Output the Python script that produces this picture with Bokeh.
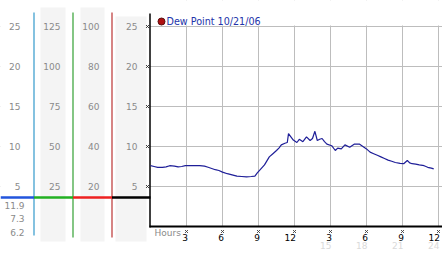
from bokeh.plotting import figure
from bokeh.models import Range1d, FixedTicker, BoxAnnotation
from bokeh.core.properties import value
from bokeh.embed import file_html
from bokeh.resources import INLINE

# ---------------- data ----------------
series_label = "Dew Point 10/21/06"
hours = [0.0, 0.3, 0.6, 1.0, 1.3, 1.6, 2.0, 2.3, 2.6, 2.9,
         3.3, 3.7, 4.1, 4.5, 4.8, 5.1, 5.4, 5.7, 6.0, 6.4,
         6.8, 7.2, 7.6, 8.0, 8.4, 8.7, 8.9, 9.2, 9.5, 9.7,
         9.9, 10.2, 10.5, 10.7, 10.9, 11.2, 11.4, 11.5, 11.7, 11.9,
         12.2, 12.4, 12.7, 13.0, 13.3, 13.5, 13.7, 13.9, 14.1, 14.3,
         14.5, 14.7, 15.1, 15.4, 15.6, 15.9, 16.2, 16.6, 17.0, 17.4,
         17.7, 18.0, 18.3, 18.6, 18.9, 19.2, 19.5, 19.8, 20.1, 20.4,
         20.8, 21.1, 21.4, 21.6, 21.8, 22.1, 22.4, 22.8, 23.1, 23.4,
         23.6]
dew = [7.6, 7.5, 7.4, 7.4, 7.45, 7.6, 7.55, 7.45, 7.5, 7.6,
       7.6, 7.6, 7.6, 7.55, 7.4, 7.25, 7.1, 7.0, 6.8, 6.6,
       6.45, 6.3, 6.25, 6.2, 6.25, 6.3, 6.7, 7.2, 7.7, 8.2,
       8.7, 9.1, 9.5, 9.8, 10.2, 10.4, 10.5, 11.6, 11.2, 10.8,
       10.5, 10.9, 10.6, 11.2, 10.75, 11.0, 11.9, 10.75, 10.9, 11.0,
       10.6, 10.3, 10.1, 9.5, 9.8, 9.7, 10.2, 9.9, 10.3, 10.3,
       10.0, 9.7, 9.3, 9.1, 8.9, 8.7, 8.5, 8.3, 8.15, 8.0,
       7.9, 7.85, 8.25, 7.95, 7.85, 7.8, 7.7, 7.6, 7.4, 7.3,
       7.2]
y_ticks = [5, 10, 15, 20, 25]
scale1_labels = ["5", "10", "15", "20", "25"]
scale2_labels = ["25", "50", "75", "100", "125"]
scale3_labels = ["20", "40", "60", "80", "100"]
scale4_labels = ["5", "10", "15", "20", "25"]
stat_labels = ["11.9", "7.3", "6.2"]
x_ticks = [3, 6, 9, 12, 15, 18, 21, 24]
x_tick_labels = ["3", "6", "9", "12", "3", "6", "9", "12"]
x_tick_labels_24h = ["15", "18", "21", "24"]
x_ticks_24h = [15, 18, 21, 24]
x_title = "Hours"

# ---------------- layout constants ----------------
W, H = 442, 253
ORIGIN_X = 150      # page px of hour 0
ORIGIN_Y = 226      # page px of value 0
PX_H = 12.0         # px per hour
PX_V = 8.0          # px per unit
GRID_TOP = 25       # vertical grid lines stop here
FONT = value("DejaVu Sans")
GRAY = "#8a8a8a"


def hx(px):
    """page pixel column -> hours"""
    return (px - ORIGIN_X) / PX_H


def vy(py):
    """page pixel row -> value units"""
    return (ORIGIN_Y - py) / PX_V


p = figure(width=W, height=H, x_range=Range1d(hx(0), hx(W)), y_range=Range1d(vy(H), vy(0)),
           output_backend="svg", toolbar_location=None, title=None,
           x_axis_location=None, y_axis_location=None, min_border=0)
p.outline_line_color = None
p.background_fill_color = "white"
p.border_fill_color = "white"

# grid (restricted to the chart area by white masks drawn over it)
p.xgrid.ticker = FixedTicker(ticks=x_ticks)
p.ygrid.ticker = FixedTicker(ticks=y_ticks)
p.grid.grid_line_color = "#bdbdbd"
p.grid.grid_line_width = 1
for kw in (dict(right=hx(149)), dict(top=0), dict(bottom=GRID_TOP + 0.12, right=hx(W))):
    p.add_layout(BoxAnnotation(fill_color="white", fill_alpha=1, line_color=None,
                               level="underlay", **kw))

# ---------------- left scale panel ----------------
p.quad(left=[hx(40), hx(80), hx(115)], right=[hx(65), hx(104), hx(146)],
       top=[vy(7), vy(7), vy(16)], bottom=[vy(241)] * 3,
       fill_color="#f4f4f4", line_color=None)

p.segment(x0=[hx(33.5), hx(72.5), hx(111.5)], x1=[hx(33.5), hx(72.5), hx(111.5)],
          y0=[vy(12)] * 3, y1=[vy(235), vy(237), vy(237)],
          line_color=["#3399cc", "#33a033", "#bb3333"], line_width=1.2)

p.segment(x0=[hx(0), hx(33.5), hx(72.5), hx(111.5)], x1=[hx(33.5), hx(72.5), hx(111.5), hx(150)],
          y0=[vy(197)] * 4, y1=[vy(197)] * 4,
          line_color=["#2255dd", "#22b022", "#ee2020", "black"], line_width=2.5)

txt = dict(text_font=FONT, text_font_size="9px", text_color=GRAY,
           text_align="right", text_baseline="middle")
p.text([hx(20)] * 5, y_ticks, text=scale1_labels, **txt)
p.text([hx(60)] * 5, y_ticks, text=scale2_labels, **txt)
p.text([hx(99)] * 5, y_ticks, text=scale3_labels, **txt)
p.text([hx(137)] * 5, y_ticks, text=scale4_labels, **txt)
p.text([hx(24)] * 3, [vy(205), vy(218), vy(232)], text=stat_labels, **txt)

# ---------------- axes ----------------
p.segment(x0=[hx(149.5)], x1=[hx(149.5)], y0=[vy(13)], y1=[vy(227)],
          line_color="black", line_width=1.5)
p.segment(x0=[hx(149)], x1=[hx(W)], y0=[0], y1=[0], line_color="black", line_width=2)

p.scatter([hx(147)] * len(y_ticks), y_ticks, marker="x", size=4,
          line_color="#333333", line_width=1)
p.scatter(x_ticks, [vy(231)] * len(x_ticks), marker="x", size=4,
          line_color="#444444", line_width=1)

p.text(x_ticks, [vy(236.5)] * len(x_ticks), text=x_tick_labels, text_font=FONT,
       text_font_size="9px", text_color="black", text_align="right", text_baseline="middle",
       x_offset=1.5)
p.text(x_ticks_24h, [vy(245)] * len(x_ticks_24h), text=x_tick_labels_24h, text_font=FONT,
       text_font_size="9px", text_color="#dadada", text_align="right", text_baseline="middle",
       x_offset=1)
p.text([hx(154)], [vy(232)], text=[x_title], text_font=FONT, text_font_size="9px",
       text_color=GRAY, text_align="left", text_baseline="middle")

# ---------------- data line + legend ----------------
p.line(hours, dew, line_color="#1e1e98", line_width=1.2)

p.scatter([hx(161)], [vy(21)], marker="circle", size=7,
          fill_color="#b01010", line_color="#5a1010", line_width=1)
p.text([hx(166)], [vy(21)], text=[series_label], text_font=FONT, text_font_size="9.6px",
       text_color="#2233aa", text_align="left", text_baseline="middle")

open("out.html", "w").write(file_html(p, INLINE))
